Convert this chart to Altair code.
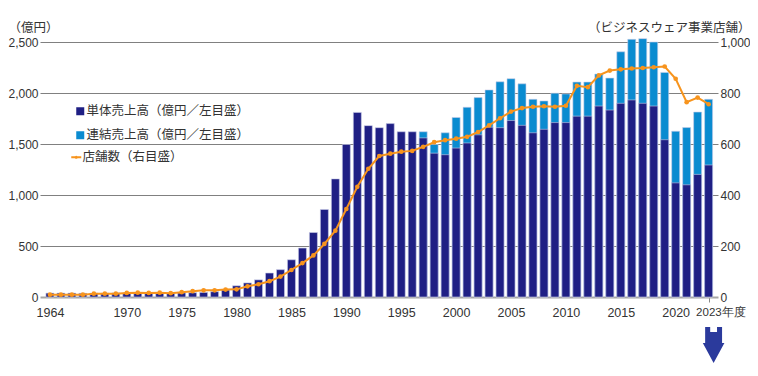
import altair as alt
import pandas as pd

# ---- data ----
years = list(range(1963, 2024))
tantai = [38, 38, 38, 36, 38, 38, 40, 40, 38, 38,
          36, 38, 40, 42, 45, 52, 68, 110, 138, 168,
          235, 268, 365, 480, 632, 858, 1158, 1495, 1810, 1680,
          1660, 1700, 1620, 1620, 1560, 1410, 1395, 1460, 1510, 1590,
          1665, 1660, 1730, 1683, 1610, 1644, 1710, 1710, 1773, 1773,
          1872, 1833, 1899, 1932, 1899, 1872, 1542, 1119, 1100, 1202,
          1294]
renketsu = [None] * 34 + [1620, 1495, 1610, 1760, 1860, 1955, 2030, 2110, 2140, 2090,
                          1938, 1922, 1998, 1991, 2107, 2107, 2186, 2146, 2404, 2526,
                          2533, 2500, 2202, 1625, 1661, 1813, 1938]
stores = [9, 9, 9, 9, 13, 13, 13, 16, 17, 16,
          17, 15, 19, 23, 26, 26, 29, 30, 42, 50,
          62, 80, 106, 133, 163, 208, 260, 345, 432, 503,
          553, 562, 570, 573, 589, 607, 615, 621, 628, 647,
          673, 701, 727, 741, 746, 748, 746, 750, 828, 823,
          869, 888, 893, 896, 898, 901, 904, 856, 764, 782,
          756]
tick_years = [1963, 1970, 1975, 1980, 1985, 1990, 1995, 2000, 2005, 2010, 2015, 2020, 2023]
left_ticks = [0, 500, 1000, 1500, 2000, 2500]
right_ticks = [0, 200, 400, 600, 800, 1000]

LBL_TANTAI = "単体売上高（億円／左目盛）"
LBL_RENKETSU = "連結売上高（億円／左目盛）"
LBL_STORES = "店舗数（右目盛）"

df = pd.DataFrame({"year": years, "tantai": tantai, "renketsu": renketsu, "stores": stores})
arrow_df = pd.DataFrame({"year": [2023]})

NAVY = "#1f1f84"
LIGHT = "#0a8bd0"
ORANGE = "#f7941d"
NUM_FONT = "Liberation Sans, Arial, sans-serif"
JP_FONT = "Noto Sans CJK JP"
TXT = "#333333"
IS_LAST = "datum.value == 2023"

x_enc = alt.X(
    "year:Q",
    scale=alt.Scale(domain=[1962.55, 2023.4], nice=False, zero=False),
    axis=alt.Axis(
        values=tick_years,
        labelExpr="datum.value == 1963 ? '1964' : (datum.value == 2023 ? '2023年度' : datum.label)",
        format="d",
        grid=False,
        domainColor="#a6a6a6",
        domainWidth=2,
        ticks=True,
        tickSize=5,
        tickWidth=1,
        tickColor={"condition": {"test": IS_LAST, "value": "#888888"}, "value": "transparent"},
        labelFont=NUM_FONT,
        labelFontSize={"condition": {"test": IS_LAST, "value": 11.5}, "value": 12.5},
        labelColor=TXT,
        labelPadding=4,
        labelAlign={"condition": {"test": IS_LAST, "value": "left"}, "value": "center"},
        labelOffset={"condition": {"test": IS_LAST, "value": -13}, "value": 0},
        labelOverlap=False,
        title=None,
    ),
)

y_left = alt.Scale(domain=[0, 2500], nice=False)
left_axis = alt.Axis(
    values=left_ticks,
    format=",.0f",
    domain=False,
    ticks=False,
    grid=True,
    gridColor={"condition": {"test": "datum.value == 0", "value": "transparent"}, "value": "#808080"},
    gridWidth=1,
    labelFont=NUM_FONT,
    labelFontSize=12,
    labelColor=TXT,
    labelPadding=2,
    title="（億円）",
    titleAngle=0,
    titleX=-32,
    titleY=-15,
    titleAlign="left",
    titleBaseline="middle",
    titleFont=JP_FONT,
    titleFontSize=12.5,
    titleFontWeight="normal",
    titleColor=TXT,
)

bar_color_scale = alt.Scale(domain=[LBL_TANTAI, LBL_RENKETSU], range=[NAVY, LIGHT])
bar_legend = alt.Legend(
    orient="none", legendX=34, legendY=63, title=None,
    symbolType="square", symbolSize=64, symbolStrokeWidth=0,
    labelFont=JP_FONT, labelFontSize=12.5, labelColor=TXT, labelLimit=300,
    rowPadding=11, labelOffset=0, padding=0,
)

light_bars = alt.Chart(df).transform_calculate(
    series=f"'{LBL_RENKETSU}'"
).mark_bar(width=8, stroke="#c9cde8", strokeWidth=0.6, clip=False).encode(
    x=x_enc,
    y=alt.Y("renketsu:Q", scale=y_left, axis=left_axis),
    color=alt.Color("series:N", scale=bar_color_scale, legend=bar_legend),
)
navy_bars = alt.Chart(df).transform_calculate(
    series=f"'{LBL_TANTAI}'"
).mark_bar(width=8, stroke="#c9cde8", strokeWidth=0.6, clip=False).encode(
    x=x_enc,
    y=alt.Y("tantai:Q", scale=y_left, axis=left_axis),
    color=alt.Color("series:N", scale=bar_color_scale, legend=bar_legend),
)
bars = alt.layer(light_bars, navy_bars)

y_right = alt.Scale(domain=[0, 1000], nice=False)
right_axis = alt.Axis(
    orient="right",
    values=right_ticks,
    format=",.0f",
    domain=False,
    ticks=False,
    grid=False,
    labelFont=NUM_FONT,
    labelFontSize=12,
    labelColor=TXT,
    labelPadding=2,
    title="（ビジネスウェア事業店舗）",
    titleAngle=0,
    titleX=32,
    titleY=-15,
    titleAlign="right",
    titleBaseline="middle",
    titleFont=JP_FONT,
    titleFontSize=12.5,
    titleFontWeight="normal",
    titleColor=TXT,
)

line_symbol = ("M-1,-0.2L1,-0.2L1,0.2L-1,0.2Z "
               "M0.32,0A0.32,0.32,0,1,1,-0.32,0A0.32,0.32,0,1,1,0.32,0Z")
store_legend = alt.Legend(
    orient="none", legendX=30, legendY=109, title=None,
    symbolType=line_symbol, symbolSize=100, symbolStrokeWidth=0, symbolOpacity=1,
    labelFont=JP_FONT, labelFontSize=12.5, labelColor=TXT, labelLimit=300,
    labelOffset=0, padding=0,
)

store_line = alt.Chart(df).mark_line(color=ORANGE, strokeWidth=2).encode(
    x=x_enc,
    y=alt.Y("stores:Q", scale=y_right, axis=right_axis),
)
store_pts = alt.Chart(df).transform_calculate(
    series=f"'{LBL_STORES}'"
).mark_point(filled=True, size=22, opacity=1).encode(
    x=x_enc,
    y=alt.Y("stores:Q", scale=y_right, axis=right_axis),
    color=alt.Color("series:N", scale=alt.Scale(domain=[LBL_STORES], range=[ORANGE]), legend=store_legend),
)
lines = alt.layer(store_line, store_pts)

arrow_path = ("M-0.47,-1L-0.19,-1L-0.19,-0.72L0.19,-0.72L0.19,-1L0.47,-1"
              "L0.47,-0.11L0.6,-0.11L0,1L-0.6,-0.11L-0.47,-0.11Z")
arrow = alt.Chart(arrow_df).mark_point(
    shape=arrow_path, size=1296, filled=True, color="#2b3a9c", opacity=1, strokeWidth=0,
    xOffset=5,
).encode(
    x=x_enc,
    y=alt.value(303),
)

chart = alt.layer(bars, lines, arrow).resolve_scale(
    y="independent", color="independent"
).properties(
    width=678,
    height=255,
    autosize=alt.AutoSizeParams(type="none"),
    padding={"left": 32, "top": 34, "right": 32, "bottom": 70},
).configure_view(stroke=None)

chart.save("out.html", embed_options={"renderer": "svg", "actions": False})
